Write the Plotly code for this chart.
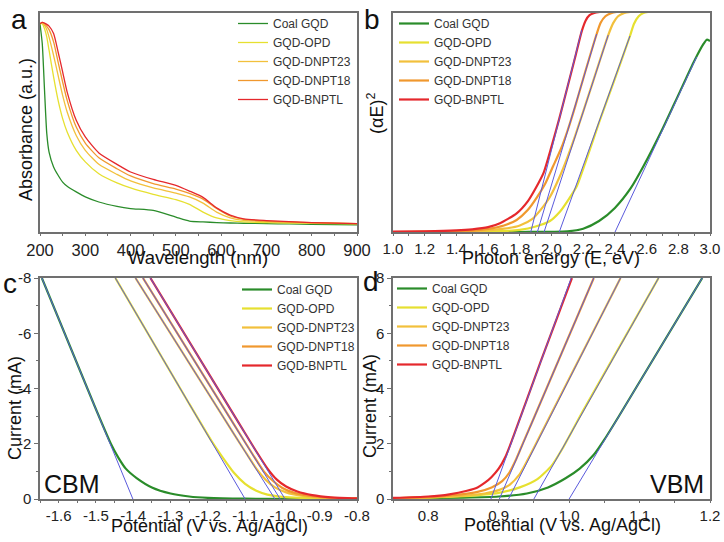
import plotly.graph_objects as go

names = ["Coal GQD", "GQD-OPD", "GQD-DNPT23", "GQD-DNPT18", "GQD-BNPTL"]
colors = ["#2a8c2a", "#e6e030", "#f2c03c", "#f0982e", "#e5282c"]
tan_color = "#5a5adc"
font = "Liberation Sans, Arial, sans-serif"

# (a) UV-vis absorbance, a.u.
uv_wl = [200, 205, 210, 215, 220, 230, 240, 250, 260, 280, 300, 330, 370, 400,
         450, 500, 530, 560, 590, 620, 650, 700, 750, 800, 900]
uv_coal = [0.951, 0.860, 0.647, 0.449, 0.365, 0.297, 0.259, 0.228, 0.209, 0.183, 0.160, 0.137, 0.117,
           0.107, 0.099, 0.068, 0.050, 0.046, 0.043, 0.041, 0.040, 0.038, 0.037, 0.035, 0.033]
uv_opd = [0.951, 0.951, 0.928, 0.890, 0.830, 0.708, 0.601, 0.518, 0.457, 0.373, 0.320, 0.266, 0.224,
          0.201, 0.172, 0.148, 0.126, 0.091, 0.064, 0.052, 0.046, 0.043, 0.041, 0.040, 0.037]
uv_dnpt23 = [0.951, 0.954, 0.943, 0.924, 0.890, 0.806, 0.715, 0.624, 0.548, 0.441, 0.373, 0.309, 0.263,
             0.233, 0.201, 0.178, 0.160, 0.132, 0.091, 0.065, 0.053, 0.047, 0.044, 0.041, 0.038]
uv_dnpt18 = [0.951, 0.957, 0.951, 0.939, 0.924, 0.868, 0.776, 0.685, 0.601, 0.479, 0.406, 0.339, 0.289,
             0.256, 0.221, 0.196, 0.176, 0.150, 0.107, 0.073, 0.058, 0.050, 0.046, 0.043, 0.038]
uv_bnptl = [0.951, 0.957, 0.954, 0.948, 0.940, 0.906, 0.822, 0.731, 0.639, 0.510, 0.434, 0.361, 0.309,
            0.274, 0.240, 0.213, 0.187, 0.158, 0.110, 0.077, 0.060, 0.052, 0.047, 0.043, 0.038]

# (b) Tauc plot (photon energy eV, (aE)^2 a.u.)
tauc_coal_e = [1.0, 1.8, 2.1, 2.2, 2.3, 2.4, 2.5, 2.58, 2.7, 2.8, 2.9, 2.96, 2.98, 3.0]
tauc_coal_v = [0.0, 0.0, 0.003, 0.015, 0.05, 0.11, 0.2, 0.30, 0.47, 0.625, 0.78, 0.86, 0.878, 0.872]
tauc_opd_e = [1.0, 1.6, 1.8, 1.9, 1.99, 2.05, 2.1, 2.16, 2.22, 2.3, 2.4, 2.495, 2.52, 2.55, 2.58, 2.65]
tauc_opd_v = [0.0, 0.002, 0.01, 0.025, 0.05, 0.09, 0.14, 0.21, 0.33, 0.50, 0.70, 0.895, 0.95, 0.985, 1.0, 1.01]
tauc_dnpt23_e = [1.0, 1.5, 1.7, 1.8, 1.88, 1.93, 1.99, 2.05, 2.1, 2.15, 2.25, 2.358, 2.39, 2.42, 2.46, 2.55]
tauc_dnpt23_v = [0.0, 0.003, 0.015, 0.03, 0.06, 0.1, 0.16, 0.25, 0.34, 0.44, 0.66, 0.899, 0.955, 0.985, 1.0, 1.01]
tauc_dnpt18_e = [1.0, 1.5, 1.6, 1.7, 1.78, 1.85, 1.91, 1.96, 2.01, 2.06, 2.1, 2.15, 2.2, 2.285, 2.31, 2.34, 2.38, 2.45]
tauc_dnpt18_v = [0.0, 0.006, 0.014, 0.03, 0.055, 0.1, 0.16, 0.22, 0.30, 0.38, 0.46, 0.575, 0.70, 0.904, 0.955, 0.985, 1.0, 1.01]
tauc_bnptl_e = [1.0, 1.2, 1.4, 1.5, 1.6, 1.675, 1.78, 1.85, 1.9, 1.95, 2.0, 2.05, 2.1, 2.15, 2.19, 2.215, 2.24, 2.27, 2.35]
tauc_bnptl_v = [0.002, 0.003, 0.007, 0.012, 0.022, 0.04, 0.085, 0.14, 0.2, 0.27, 0.39, 0.52, 0.66, 0.80, 0.915, 0.965, 0.99, 1.0, 1.01]
# fitted tangents: [intercept, upper end]
tauc_fit_e = [[2.401, 2.916], [2.049, 2.495], [1.953, 2.358], [1.911, 2.285], [1.869, 2.191]]
tauc_fit_v = [[0.0, 0.80], [0.0, 0.895], [0.0, 0.899], [0.0, 0.904], [0.0, 0.922]]

# (c) CBM, cathodic sweep (V vs Ag/AgCl, mA)
cbm_coal_v = [-1.645, -1.50, -1.46, -1.44, -1.42, -1.39, -1.35, -1.30, -1.25, -1.20, -1.10, -0.80]
cbm_coal_i = [-8.0, -3.25, -2.0, -1.5, -1.1, -0.75, -0.42, -0.2, -0.09, -0.04, -0.01, 0.0]
cbm_opd_v = [-1.448, -1.25, -1.19, -1.16, -1.13, -1.10, -1.07, -1.04, -1.0, -0.95, -0.88, -0.80]
cbm_opd_i = [-8.0, -3.45, -2.1, -1.5, -0.95, -0.55, -0.3, -0.16, -0.08, -0.04, -0.015, -0.005]
cbm_dnpt23_v = [-1.394, -1.15, -1.10, -1.07, -1.045, -1.02, -0.99, -0.95, -0.90, -0.80]
cbm_dnpt23_i = [-8.0, -2.78, -1.72, -1.1, -0.7, -0.42, -0.24, -0.12, -0.05, -0.01]
cbm_dnpt18_v = [-1.374, -1.13, -1.08, -1.05, -1.025, -1.0, -0.97, -0.93, -0.88, -0.80]
cbm_dnpt18_i = [-8.0, -2.7, -1.62, -1.0, -0.65, -0.4, -0.23, -0.12, -0.05, -0.015]
cbm_bnptl_v = [-1.354, -1.12, -1.07, -1.04, -1.015, -0.99, -0.96, -0.92, -0.87, -0.80]
cbm_bnptl_i = [-8.0, -2.82, -1.72, -1.1, -0.7, -0.45, -0.27, -0.14, -0.06, -0.02]
cbm_fit_v = [[-1.645, -1.401], [-1.448, -1.100], [-1.394, -1.020], [-1.374, -1.006], [-1.354, -0.993]]
cbm_fit_i = [[-8.0, 0.0]] * 5

# (d) VBM, anodic sweep
vbm_coal_v = [0.75, 0.85, 0.90, 0.94, 0.97, 0.995, 1.015, 1.035, 1.05, 1.07, 1.189]
vbm_coal_i = [0.02, 0.05, 0.09, 0.2, 0.42, 0.75, 1.1, 1.6, 2.15, 2.97, 8.0]
vbm_opd_v = [0.75, 0.80, 0.85, 0.90, 0.93, 0.955, 0.975, 0.99, 1.005, 1.02, 1.127]
vbm_opd_i = [0.03, 0.05, 0.1, 0.22, 0.42, 0.72, 1.2, 1.8, 2.5, 3.2, 8.0]
vbm_dnpt23_v = [0.75, 0.80, 0.85, 0.88, 0.90, 0.915, 0.93, 0.945, 0.96, 1.073]
vbm_dnpt23_i = [0.03, 0.06, 0.12, 0.2, 0.32, 0.5, 0.9, 1.6, 2.35, 8.0]
vbm_dnpt18_v = [0.75, 0.80, 0.84, 0.87, 0.89, 0.905, 0.915, 0.925, 0.935, 0.95, 1.035]
vbm_dnpt18_i = [0.03, 0.07, 0.15, 0.26, 0.42, 0.65, 0.95, 1.45, 2.05, 2.93, 8.0]
vbm_bnptl_v = [0.75, 0.80, 0.83, 0.855, 0.87, 0.88, 0.89, 0.90, 0.91, 0.92, 0.96, 1.004]
vbm_bnptl_i = [0.04, 0.09, 0.17, 0.3, 0.42, 0.58, 0.8, 1.1, 1.55, 2.2, 5.0, 8.0]
vbm_fit_v = [[1.000, 1.189], [0.950, 1.127], [0.914, 1.073], [0.901, 1.035], [0.889, 1.003]]
vbm_fit_i = [[0.0, 8.0]] * 5

panels = [
    ("x", "y", "legend", 1.3,
     [uv_wl] * 5, [uv_coal, uv_opd, uv_dnpt23, uv_dnpt18, uv_bnptl], None, None),
    ("x2", "y2", "legend2", 2.2,
     [tauc_coal_e, tauc_opd_e, tauc_dnpt23_e, tauc_dnpt18_e, tauc_bnptl_e],
     [tauc_coal_v, tauc_opd_v, tauc_dnpt23_v, tauc_dnpt18_v, tauc_bnptl_v], tauc_fit_e, tauc_fit_v),
    ("x3", "y3", "legend3", 2.2,
     [cbm_coal_v, cbm_opd_v, cbm_dnpt23_v, cbm_dnpt18_v, cbm_bnptl_v],
     [cbm_coal_i, cbm_opd_i, cbm_dnpt23_i, cbm_dnpt18_i, cbm_bnptl_i], cbm_fit_v, cbm_fit_i),
    ("x4", "y4", "legend4", 2.2,
     [vbm_coal_v, vbm_opd_v, vbm_dnpt23_v, vbm_dnpt18_v, vbm_bnptl_v],
     [vbm_coal_i, vbm_opd_i, vbm_dnpt23_i, vbm_dnpt18_i, vbm_bnptl_i], vbm_fit_v, vbm_fit_i),
]

fig = go.Figure()
for xa, ya, leg, lw, xs, ys, fx, fy in panels:
    for k in range(5):
        fig.add_trace(go.Scatter(x=xs[k], y=ys[k], mode="lines", name=names[k],
                                 line=dict(color=colors[k], width=lw, shape="spline", smoothing=0.6),
                                 xaxis=xa, yaxis=ya, legend=leg))
    if fx:
        for k in range(5):
            fig.add_trace(go.Scatter(x=fx[k], y=fy[k], mode="lines", showlegend=False,
                                     line=dict(color=tan_color, width=1),
                                     xaxis=xa, yaxis=ya))

W, H = 724, 542
left_dom = [40 / W, 357 / W]
right_dom = [393 / W, 710 / W]
top_dom = [1 - 232 / H, 1 - 13 / H]
bot_dom = [1 - 499 / H, 1 - 278 / H]

base = dict(showline=True, mirror=True, linecolor="#707070", linewidth=1.5, automargin=False,
            showgrid=False, zeroline=False, ticks="outside", tickcolor="#707070",
            tickfont=dict(size=15, color="#222", family=font))
xframe = dict(base, ticklen=2)
yframe = dict(base, ticklen=4)
noy = dict(showline=True, mirror=True, linecolor="#707070", linewidth=1.5, automargin=False,
           showgrid=False, zeroline=False, showticklabels=False, ticks="")
minor_t = dict(ticklen=2, ticks="outside", tickcolor="#707070")

c_ticks = [-1.6, -1.5, -1.4, -1.3, -1.2, -1.1, -1.0, -0.9, -0.8]
c_ticktext = ["-1.6", "-1.5", "-1.4", "-1.3", "-1.2", "-1.1", "-1.0", "-0.9", "-0.8"]
c_yticks = [0, -2, -4, -6, -8]
c_yticktext = ["0", "-2", "-4", "-6", "-8"]

fig.update_layout(
    width=W, height=H, margin=dict(l=0, r=0, t=0, b=0, autoexpand=False),
    paper_bgcolor="white", plot_bgcolor="white",
    font=dict(family=font, color="#222"),
    xaxis=dict(xframe, domain=left_dom, anchor="y", range=[200, 900], dtick=100,
               tickfont=dict(size=16.5, color="#222", family=font),
               minor=dict(dtick=50, **minor_t)),
    yaxis=dict(noy, domain=top_dom, anchor="x", range=[0, 1]),
    xaxis2=dict(xframe, domain=right_dom, anchor="y2", range=[1.0, 3.0], dtick=0.2, tickformat=".1f",
                minor=dict(dtick=0.1, **minor_t)),
    yaxis2=dict(noy, domain=top_dom, anchor="x2", range=[0, 1]),
    xaxis3=dict(xframe, domain=left_dom, anchor="y3", range=[-1.65, -0.8], tickmode="array",
                tickvals=c_ticks, ticktext=c_ticktext,
                minor=dict(tick0=-0.8, dtick=0.05, **minor_t)),
    yaxis3=dict(yframe, domain=bot_dom, anchor="x3", range=[0, -8], tickmode="array",
                tickvals=c_yticks, ticktext=c_yticktext,
                minor=dict(tick0=0, dtick=1, **minor_t)),
    xaxis4=dict(xframe, domain=right_dom, anchor="y4", range=[0.75, 1.2], tick0=0.8, dtick=0.1,
                tickformat=".1f", minor=dict(tick0=0.75, dtick=0.05, **minor_t)),
    yaxis4=dict(yframe, domain=bot_dom, anchor="x4", range=[0, 8], dtick=2,
                minor=dict(dtick=1, **minor_t)),
)

leg_style = dict(bgcolor="rgba(0,0,0,0)", borderwidth=0, xanchor="left", yanchor="top",
                 font=dict(size=12, color="#333", family=font), tracegroupgap=0)
fig.update_layout(
    legend=dict(x=233 / W, y=1 - 9 / H, **leg_style),
    legend2=dict(x=394 / W, y=1 - 9 / H, **leg_style),
    legend3=dict(x=237 / W, y=1 - 275 / H, **leg_style),
    legend4=dict(x=392 / W, y=1 - 274 / H, **leg_style),
)


def px(x, y):
    return x / W, 1 - y / H


def note(text, x, y, size, angle=0):
    ax, ay = px(x, y)
    fig.add_annotation(text=text, x=ax, y=ay, xref="paper", yref="paper", showarrow=False,
                       textangle=angle, xanchor="center", yanchor="middle",
                       font=dict(size=size, color="#111", family=font))


note("a", 19, 20, 28)
note("b", 372, 20, 28)
note("c", 10, 283, 28)
note("d", 371, 281, 28)
note("Wavelength (nm)", 198, 257, 18.5)
note("Photon energy (E, eV)", 551, 258, 18)
note("Potential (V vs. Ag/AgCl)", 209, 526, 18)
note("Potential (V vs. Ag/AgCl)", 562, 525, 18)
note("Absorbance (a.u.)", 26, 130, 18, -90)
note("(αE)<sup>2</sup>", 375, 114, 18, -90)
note("Current (mA)", 15, 408, 18, -90)
note("Current (mA)", 370, 406, 18, -90)
note("CBM", 72, 484, 25)
note("VBM", 677, 484, 25)

# page body has a default 8px margin; drop it so the figure sits at the window origin
fig.write_html("out.html", config={"displayModeBar": False},
               post_script="document.body.style.margin='0';")
